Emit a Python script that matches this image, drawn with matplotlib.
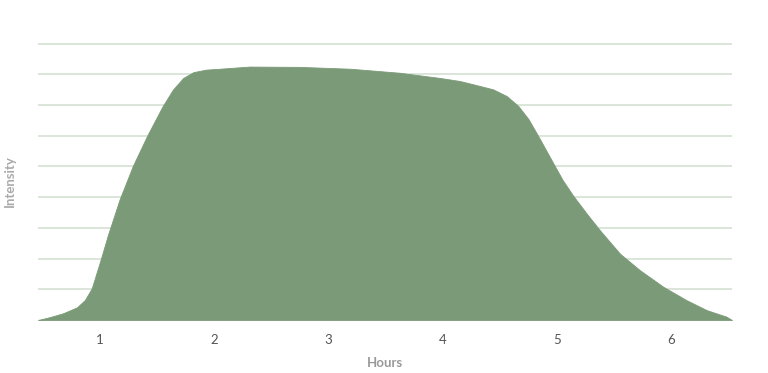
import matplotlib.pyplot as plt

# values (hours vs. intensity, in grid units)
hours = [0.46, 0.56, 0.68, 0.80, 0.87, 0.93, 0.97, 1.015, 1.07, 1.175, 1.29,
         1.42, 1.55, 1.64, 1.73, 1.82, 1.93, 2.05, 2.31, 2.75, 3.19, 3.62,
         3.975, 4.15, 4.27, 4.44, 4.56, 4.66, 4.75, 4.85, 4.97, 5.05, 5.14,
         5.26, 5.375, 5.55, 5.725, 5.93, 6.13, 6.31, 6.48, 6.53]
intensity = [0.0, 0.09, 0.22, 0.41, 0.65, 1.03, 1.51, 2.05, 2.75, 3.94, 5.02,
             6.04, 6.96, 7.5, 7.88, 8.07, 8.15, 8.18, 8.25, 8.24, 8.18, 8.05,
             7.88, 7.78, 7.67, 7.51, 7.29, 6.97, 6.54, 5.89, 5.08, 4.55, 4.05,
             3.46, 2.92, 2.16, 1.62, 1.08, 0.65, 0.32, 0.11, 0.0]
x_ticks = [1, 2, 3, 4, 5, 6]
grid_levels = list(range(1, 10))

plt.rcParams['font.family'] = ['Lato', 'DejaVu Sans']

fig = plt.figure(figsize=(7.68, 3.73), dpi=100)
ax = fig.add_axes([38 / 768, 1 - 320 / 373, 694 / 768, 278 / 373])

for g in grid_levels:
    ax.axhline(g, color='#d9e3d7', linewidth=1.3, zorder=0)

ax.fill_between(hours, intensity, 0, color='#7b9a78', linewidth=0.6,
                edgecolor='#7b9a78', zorder=2)
ax.axhline(0, color='#e3e8e2', linewidth=1.0, zorder=1)

ax.set_xlim(0.46, 6.53)
ax.set_ylim(0, 9.05)
ax.set_xticks(x_ticks)
ax.set_xticklabels([str(t) for t in x_ticks], fontsize=9.5, color='#555555')
ax.set_yticks([])
ax.tick_params(axis='x', length=0, pad=10)
for s in ax.spines.values():
    s.set_visible(False)

ax.set_xlabel('Hours', fontsize=9.5, color='#999999', fontweight='bold', labelpad=8)
ax.set_ylabel('Intensity', fontsize=9.5, color='#aaaaaa', fontweight='bold', labelpad=16)

plt.savefig('out.png', dpi=100)
